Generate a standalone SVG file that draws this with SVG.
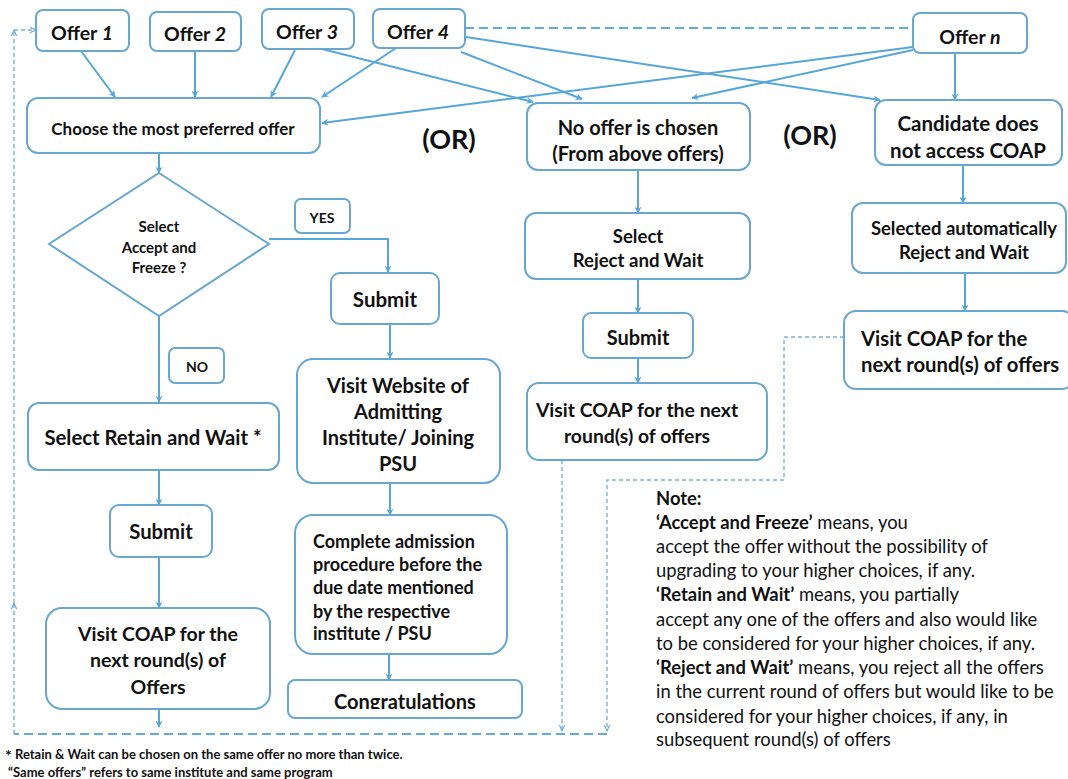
<svg xmlns="http://www.w3.org/2000/svg" width="1068" height="779" viewBox="0 0 1068 779">
<defs>
<style>
.box{fill:#fff;stroke:#67a7d0;stroke-width:2}
.c{fill:none;stroke:#55a6d9;stroke-width:2}
.dl{fill:none;stroke:#62aadb;stroke-width:2;stroke-dasharray:9 5}
.ds{fill:none;stroke:#79b3d8;stroke-width:1.4;stroke-dasharray:4 3}
text{font-family:Lato,"Liberation Sans",sans-serif;fill:#111;font-weight:bold}
.m{text-anchor:middle;dominant-baseline:central}
.l{dominant-baseline:central}
.n{font-weight:normal;font-size:18.4px}
.f{font-size:13px}
</style>
<marker id="a" viewBox="0 0 10 10" refX="9" refY="5" markerWidth="7" markerHeight="7" markerUnits="userSpaceOnUse" orient="auto"><path d="M0,0 L10,5 L0,10 L3,5 z" fill="#55a6d9"/></marker>
<marker id="ad" viewBox="0 0 10 10" refX="9" refY="5" markerWidth="7" markerHeight="7" markerUnits="userSpaceOnUse" orient="auto"><path d="M0,1 L9,5 L0,9" fill="none" stroke="#62aadb" stroke-width="1.5"/></marker>
<clipPath id="cg"><rect x="280" y="680" width="250" height="29"/></clipPath>
</defs>

<g id="connectors">
<path class="c" marker-end="url(#a)" d="M81,51 L115,97"/>
<path class="c" marker-end="url(#a)" d="M195,52 L195,97"/>
<path class="c" marker-end="url(#a)" d="M295,50 L271,97"/>
<path class="c" marker-end="url(#a)" d="M396,48 L322,97"/>
<path class="c" marker-end="url(#a)" d="M913,47 L322,123"/>
<path class="c" marker-end="url(#a)" d="M318,48 L533,102"/>
<path class="c" marker-end="url(#a)" d="M461,52 L582,99"/>
<path class="c" marker-end="url(#a)" d="M466,37 L880,100"/>
<path class="c" marker-end="url(#a)" d="M913,50 L692,98"/>
<path class="c" marker-end="url(#a)" d="M955,53 L955,100"/>
<path class="c" marker-end="url(#a)" d="M159,153 L159,173"/>
<path class="c" marker-end="url(#a)" d="M269,239 L388,239 L388,272"/>
<path class="c" marker-end="url(#a)" d="M159,316 L159,402"/>
<path class="c" marker-end="url(#a)" d="M390,324 L390,358"/>
<path class="c" marker-end="url(#a)" d="M159,470 L159,505"/>
<path class="c" marker-end="url(#a)" d="M159,557 L159,608"/>
<path class="c" marker-end="url(#a)" d="M159,709 L159,727"/>
<path class="c" marker-end="url(#a)" d="M390,483 L390,515"/>
<path class="c" marker-end="url(#a)" d="M389,654 L389,680"/>
<path class="c" marker-end="url(#a)" d="M638,170 L638,213"/>
<path class="c" marker-end="url(#a)" d="M638,279 L638,313"/>
<path class="c" marker-end="url(#a)" d="M638,358 L638,383"/>
<path class="c" marker-end="url(#a)" d="M963,165 L963,203"/>
<path class="c" marker-end="url(#a)" d="M965,273 L965,311"/>
<path class="dl" d="M465,28 L913,28"/>
<path class="dl" d="M607,734 L14,734"/>
<path class="ds" marker-end="url(#ad)" d="M14,734 L14,603"/>
<path class="ds" marker-end="url(#ad)" d="M14,603 L14,30"/>
<path class="ds" marker-end="url(#ad)" d="M14,30 L36,30"/>
<path class="ds" marker-end="url(#ad)" d="M562,460 L562,731"/>
<path class="ds" marker-end="url(#ad)" d="M844,337 L784,337 L784,480 L607,480 L607,731"/>
</g>

<g id="offer1"><rect class="box" x="36" y="10" width="93" height="41" rx="7"/><text class="m" x="82" y="32" font-size="19.5">Offer <tspan font-style="italic">1</tspan></text></g>
<g id="offer2"><rect class="box" x="150" y="12" width="91" height="39" rx="7"/><text class="m" x="195" y="33" font-size="19.5">Offer <tspan font-style="italic">2</tspan></text></g>
<g id="offer3"><rect class="box" x="262" y="9" width="92" height="40" rx="7"/><text class="m" x="307" y="31" font-size="19.5">Offer <tspan font-style="italic">3</tspan></text></g>
<g id="offer4"><rect class="box" x="373" y="9" width="92" height="39" rx="7"/><text class="m" x="418" y="31" font-size="19.5">Offer <tspan font-style="italic">4</tspan></text></g>
<g id="offern"><rect class="box" x="913" y="13" width="114" height="40" rx="7"/><text class="m" x="970" y="36" font-size="19.5">Offer <tspan font-style="italic">n</tspan></text></g>

<g id="choose"><rect class="box" x="27" y="98" width="293" height="55" rx="11"/><text class="m" x="173" y="128" font-size="17">Choose the most preferred offer</text></g>
<g id="or1"><text class="m" x="449" y="138" font-size="27">(OR)</text></g>
<g id="or2"><text class="m" x="810" y="134" font-size="27">(OR)</text></g>
<g id="nooffer"><rect class="box" x="527" y="103" width="223" height="67" rx="11"/><text class="m" x="638" y="127" font-size="20">No offer is chosen</text><text class="m" x="638" y="153" font-size="20">(From above offers)</text></g>
<g id="candidate"><rect class="box" x="875" y="100" width="187" height="65" rx="11"/><text class="m" x="968" y="123" font-size="20.5">Candidate does</text><text class="m" x="968" y="150" font-size="20.5">not access COAP</text></g>

<g id="decision"><polygon class="box" points="159,173 269,244 159,316 49,244"/><text class="m" x="159" y="226" font-size="15">Select</text><text class="m" x="159" y="247" font-size="15">Accept and</text><text class="m" x="159" y="267" font-size="15">Freeze ?</text></g>
<g id="yes"><rect class="box" x="295" y="199" width="55" height="34" rx="6" stroke-width="1.5"/><text class="m" x="322" y="217" font-size="14">YES</text></g>
<g id="no"><rect class="box" x="169" y="348" width="55" height="35" rx="6" stroke-width="1.5"/><text class="m" x="197" y="366" font-size="14">NO</text></g>

<g id="submit1"><rect class="box" x="331" y="273" width="108" height="51" rx="9"/><text class="m" x="385" y="299" font-size="20.5">Submit</text></g>
<g id="website"><rect class="box" x="297" y="359" width="203" height="124" rx="16"/><text class="m" x="398" y="385" font-size="20">Visit Website of</text><text class="m" x="398" y="411" font-size="20">Admitting</text><text class="m" x="398" y="437" font-size="20">Institute/ Joining</text><text class="m" x="398" y="463" font-size="20">PSU</text></g>
<g id="complete"><rect class="box" x="295" y="515" width="212" height="139" rx="18"/><text class="l" x="313" y="541" font-size="18">Complete admission</text><text class="l" x="313" y="564" font-size="18">procedure before the</text><text class="l" x="313" y="587" font-size="18">due date mentioned</text><text class="l" x="313" y="611" font-size="18">by the respective</text><text class="l" x="313" y="633" font-size="18">institute / PSU</text></g>
<g id="congrats"><rect class="box" x="288" y="680" width="234" height="38" rx="7"/><text class="m" x="405" y="701" font-size="20" clip-path="url(#cg)">Congratulations</text></g>

<g id="retain"><rect class="box" x="28" y="403" width="251" height="67" rx="11"/><text class="m" x="153" y="437" font-size="20.3">Select Retain and Wait *</text></g>
<g id="submit2"><rect class="box" x="110" y="505" width="102" height="52" rx="9"/><text class="m" x="161" y="531" font-size="20.3">Submit</text></g>
<g id="visitleft"><rect class="box" x="46" y="608" width="224" height="101" rx="16"/><text class="m" x="158" y="633" font-size="19.5">Visit COAP for the</text><text class="m" x="158" y="659" font-size="19.5">next round(s) of</text><text class="m" x="158" y="686" font-size="19.5">Offers</text></g>

<g id="reject"><rect class="box" x="525" y="213" width="225" height="66" rx="11"/><text class="m" x="638" y="236" font-size="18.6">Select</text><text class="m" x="638" y="260" font-size="18.6">Reject and Wait</text></g>
<g id="submit3"><rect class="box" x="583" y="313" width="110" height="45" rx="8"/><text class="m" x="638" y="337" font-size="20">Submit</text></g>
<g id="visitmid"><rect class="box" x="527" y="383" width="240" height="77" rx="12"/><text class="m" x="637" y="409" font-size="19.4">Visit COAP for the next</text><text class="m" x="637" y="435" font-size="19.4">round(s) of offers</text></g>

<g id="auto"><rect class="box" x="852" y="203" width="214" height="70" rx="11"/><text class="m" x="964" y="228" font-size="18.5">Selected automatically</text><text class="m" x="964" y="252" font-size="18.5">Reject and Wait</text></g>
<g id="visitright"><rect class="box" x="844" y="311" width="230" height="78" rx="12"/><text class="l" x="861" y="338" font-size="20.3">Visit COAP for the</text><text class="l" x="861" y="364" font-size="20.3">next round(s) of offers</text></g>

<g id="note">
<text class="l" x="656" y="498" font-size="18.4">Note:</text>
<text class="l" x="656" y="522" font-size="18.4">‘Accept and Freeze’<tspan font-weight="normal"> means, you</tspan></text>
<text class="l n" x="656" y="546">accept the offer without the possibility of</text>
<text class="l n" x="656" y="570">upgrading to your higher choices, if any.</text>
<text class="l" x="656" y="594" font-size="18.4">‘Retain and Wait’<tspan font-weight="normal"> means, you partially</tspan></text>
<text class="l n" x="656" y="619">accept any one of the offers and also would like</text>
<text class="l n" x="656" y="643">to be considered for your higher choices, if any.</text>
<text class="l" x="656" y="667" font-size="18.4">‘Reject and Wait’<tspan font-weight="normal"> means, you reject all the offers</tspan></text>
<text class="l n" x="656" y="691">in the current round of offers but would like to be</text>
<text class="l n" x="656" y="716">considered for your higher choices, if any, in</text>
<text class="l n" x="656" y="739">subsequent round(s) of offers</text>
</g>

<g id="footer">
<text class="l f" x="5" y="754"><tspan font-size="16">*</tspan> Retain &amp; Wait can be chosen on the same offer no more than twice.</text>
<text class="l f" x="8" y="772">“Same offers” refers to same institute and same program</text>
</g>
</svg>
